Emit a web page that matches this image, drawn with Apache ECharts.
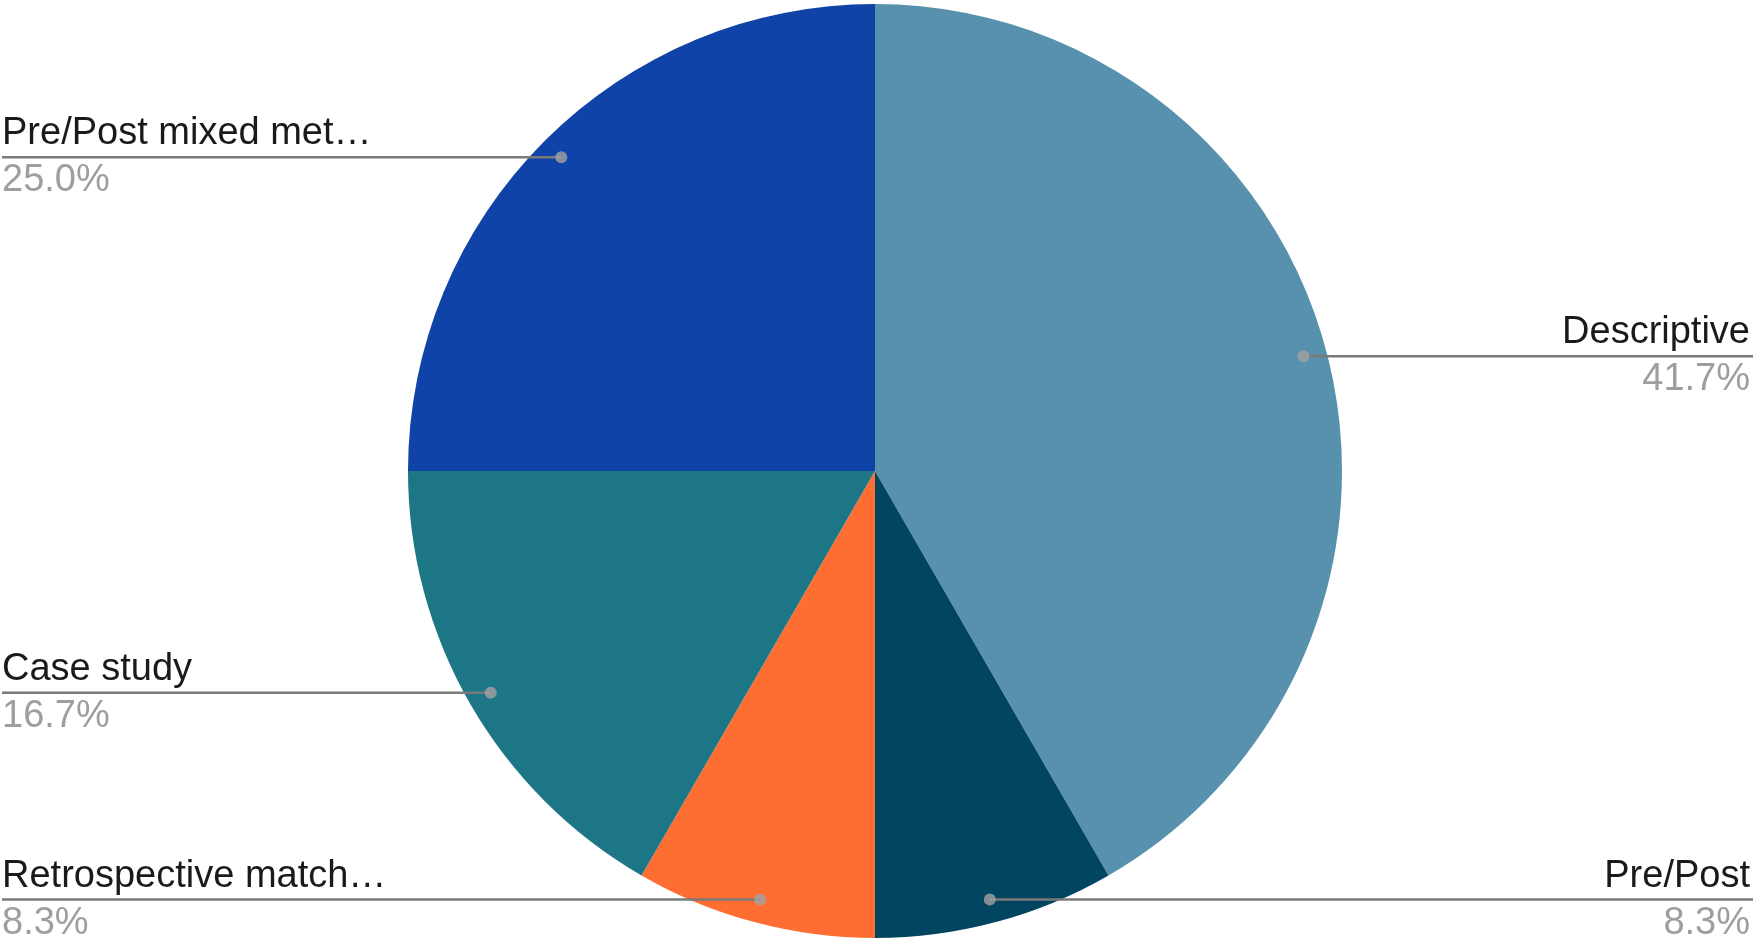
<!DOCTYPE html>
<html>
<head>
<meta charset="utf-8">
<script src="https://cdn.jsdelivr.net/npm/echarts@6/dist/echarts.min.js"></script>
<style>
  html, body { margin: 0; padding: 0; background: #fff; }
  #chart { width: 1755px; height: 943px; }
</style>
</head>
<body>
<div id="chart"></div>
<script>
// slice data, clockwise from 12 o'clock
var names = ['Descriptive', 'Pre/Post', 'Retrospective match\u2026', 'Case study', 'Pre/Post mixed met\u2026'];
var values = [5, 1, 1, 2, 3];
var colors = ['#5891ae', '#024560', '#fe6d32', '#1d7685', '#0f43a7'];

var W = 1755, H = 943;
var CX = 875, CY = 471, R = 467;
var DOT_R = 0.95; // where the leader line starts, as a share of the radius

var total = values.reduce(function (a, b) { return a + b; }, 0);
// mid value of each slice (in data units), used to place dots and label lines
var mids = [];
var acc = 0;
values.forEach(function (v) { mids.push(acc + v / 2); acc += v; });

function dotPos(i) {
  var ang = mids[i] / total * Math.PI * 2; // clockwise from top
  return [CX + Math.sin(ang) * R * DOT_R, CY - Math.cos(ang) * R * DOT_R];
}

var pieData = names.map(function (n, i) {
  return { name: n, value: values[i], itemStyle: { color: colors[i] } };
});

var chart = echarts.init(document.getElementById('chart'));
chart.setOption({
  animation: false,
  polar: { center: [CX, CY], radius: R },
  angleAxis: { type: 'value', min: 0, max: total, startAngle: 90, clockwise: true, show: false },
  radiusAxis: { type: 'value', min: 0, max: 1, show: false },
  series: [
    {
      // the slices
      type: 'pie',
      center: [CX, CY],
      radius: R,
      startAngle: 90,
      clockwise: true,
      silent: true,
      z: 1,
      data: pieData,
      label: { show: false },
      labelLine: { show: false }
    },
    {
      // invisible copy on top, carrying labels and leader lines
      type: 'pie',
      center: [CX, CY],
      radius: R,
      startAngle: 90,
      clockwise: true,
      silent: true,
      z: 3,
      data: names.map(function (n, i) {
        return { name: n, value: values[i], itemStyle: { color: 'rgba(0,0,0,0)' } };
      }),
      label: {
        show: true,
        position: 'outside',
        formatter: function (p) {
          return '{n|' + p.name + '}\n{p|' + (p.value / total * 100).toFixed(1) + '%}';
        },
        rich: {
          n: { fontFamily: 'Liberation Sans', fontSize: 38, color: '#1a1a1a', lineHeight: 47 },
          p: { fontFamily: 'Liberation Sans', fontSize: 38, color: '#9e9e9e', lineHeight: 47 }
        }
      },
      labelLine: { show: true, lineStyle: { color: '#7a7a7a', width: 2.5 } },
      labelLayout: function (params) {
        var i = params.dataIndex;
        var d = dotPos(i);
        var right = d[0] > CX;
        var edge = right ? W - 2 : 2;
        return {
          x: right ? W - 5 : 2,
          y: d[1],
          align: right ? 'right' : 'left',
          verticalAlign: 'middle',
          labelLinePoints: [[d[0], d[1]], [(d[0] + edge) / 2, d[1]], [edge, d[1]]]
        };
      }
    },
    {
      type: 'scatter',
      coordinateSystem: 'polar',
      symbol: 'circle',
      symbolSize: 12,
      silent: true,
      itemStyle: { color: '#a3a3a3' },
      data: mids.map(function (m) { return [DOT_R, m]; }),
      z: 5
    }
  ]
});
</script>
</body>
</html>
